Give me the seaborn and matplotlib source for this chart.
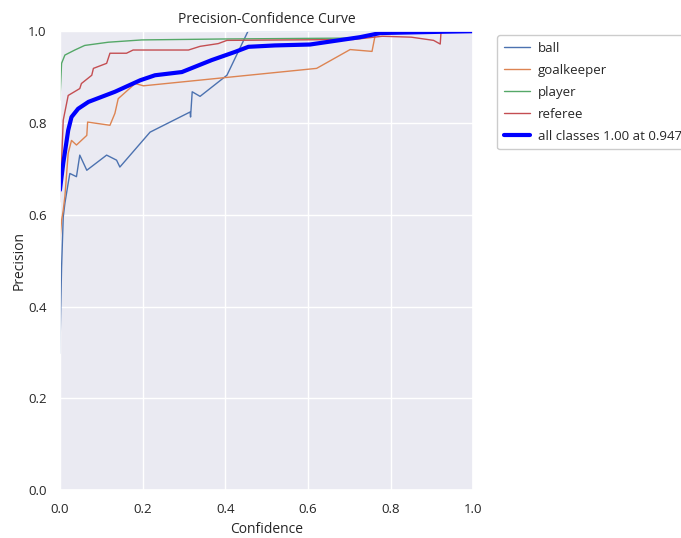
import matplotlib
matplotlib.use("Agg")
import matplotlib.pyplot as plt
import seaborn as sns
import pandas as pd

# precision-confidence curves
ball_x = [0.0, 0.002, 0.004, 0.008, 0.012, 0.02, 0.024, 0.04, 0.048, 0.065, 0.113, 0.137, 0.145,
          0.218, 0.315, 0.316, 0.320, 0.339, 0.404, 0.455, 0.6, 0.8, 1.0]
ball_y = [0.298, 0.40, 0.486, 0.595, 0.625, 0.669, 0.69, 0.683, 0.73, 0.697, 0.73, 0.719, 0.704,
          0.78, 0.824, 0.813, 0.868, 0.858, 0.904, 1.0, 1.0, 1.0, 1.0]

gk_x = [0.0, 0.004, 0.008, 0.012, 0.02, 0.028, 0.040, 0.065, 0.067, 0.121, 0.133, 0.141,
        0.182, 0.202, 0.621, 0.702, 0.755, 0.763, 0.8, 1.0]
gk_y = [0.545, 0.588, 0.61, 0.64, 0.734, 0.762, 0.752, 0.773, 0.802, 0.795, 0.821, 0.853,
        0.886, 0.881, 0.919, 0.96, 0.956, 0.993, 0.995, 1.0]

player_x = [0.0, 0.004, 0.012, 0.036, 0.06, 0.117, 0.198, 0.39, 0.7, 0.8, 1.0]
player_y = [0.85, 0.93, 0.948, 0.959, 0.969, 0.976, 0.981, 0.983, 0.985, 0.998, 1.0]

ref_x = [0.0, 0.008, 0.02, 0.048, 0.052, 0.077, 0.081, 0.113, 0.121, 0.161, 0.177, 0.311,
         0.339, 0.383, 0.404, 0.71, 0.78, 0.85, 0.904, 0.92, 0.922, 1.0]
ref_y = [0.628, 0.806, 0.86, 0.875, 0.886, 0.904, 0.919, 0.93, 0.952, 0.952, 0.959, 0.959,
         0.967, 0.973, 0.98, 0.982, 0.989, 0.987, 0.98, 0.972, 0.999, 1.0]

all_x = [0.0, 0.008, 0.02, 0.028, 0.044, 0.069, 0.133, 0.194, 0.23, 0.295, 0.367, 0.424,
         0.456, 0.52, 0.605, 0.726, 0.775, 0.936, 1.0]
all_y = [0.654, 0.712, 0.784, 0.813, 0.831, 0.846, 0.868, 0.893, 0.904, 0.911, 0.937, 0.955,
         0.966, 0.969, 0.971, 0.987, 0.996, 0.999, 1.0]

names = ["ball", "goalkeeper", "player", "referee"]
curves = [(ball_x, ball_y), (gk_x, gk_y), (player_x, player_y), (ref_x, ref_y)]

sns.set_theme(style="darkgrid")
plt.rcParams['font.family'] = ['Open Sans', 'DejaVu Sans']

fig = plt.figure(figsize=(6.81, 5.38), dpi=100)
ax = fig.add_axes([0.088, 0.089, 0.607, 0.853])

pal = sns.color_palette("deep")
for i, (name, (xs, ys)) in enumerate(zip(names, curves)):
    df = pd.DataFrame({"Confidence": xs, "Precision": ys})
    sns.lineplot(data=df, x="Confidence", y="Precision", ax=ax, color=pal[i],
                 linewidth=1, label=name, estimator=None, sort=False)

df_all = pd.DataFrame({"Confidence": all_x, "Precision": all_y})
sns.lineplot(data=df_all, x="Confidence", y="Precision", ax=ax, color="blue",
             linewidth=3, label="all classes 1.00 at 0.947", estimator=None, sort=False)

ax.set_xlim(0, 1)
ax.set_ylim(0, 1)
ax.set_xlabel("Confidence", fontsize=10)
ax.set_ylabel("Precision", fontsize=10, labelpad=1)
ax.set_title("Precision-Confidence Curve", fontsize=10)
ax.tick_params(labelsize=9.5)
ax.legend(bbox_to_anchor=(1.058, 0.991), loc="upper left", fontsize=9.5, facecolor="white",
          framealpha=1, borderaxespad=0, handlelength=2.0, handletextpad=0.6,
          borderpad=0.5, labelspacing=0.68, fancybox=True)

fig.savefig("out.png", dpi=100)
